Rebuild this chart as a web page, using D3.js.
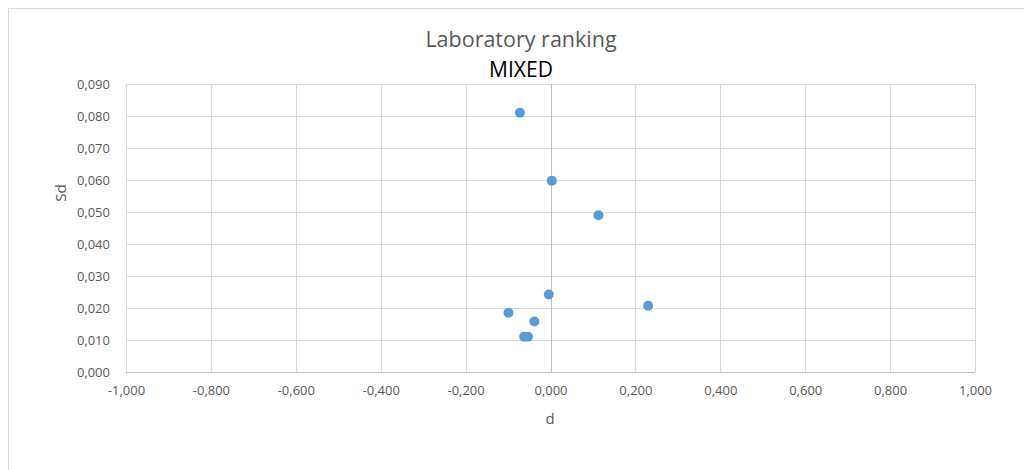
<!DOCTYPE html>
<html><head><meta charset="utf-8">
<script src="https://cdn.jsdelivr.net/npm/d3@7"></script>
<style>body{margin:0;background:#fff;} svg{display:block;font-family:"Open Sans",sans-serif;}</style>
</head><body>
<svg id="c" width="1024" height="470"></svg>
<script>
const dValues = [-0.072, 0.003, 0.113, -0.004, 0.230, -0.099, -0.038, -0.062, -0.053];
const sdValues = [0.081, 0.0598, 0.049, 0.0242, 0.0207, 0.0185, 0.0158, 0.011, 0.011];
const xTicks = [-1, -0.8, -0.6, -0.4, -0.2, 0, 0.2, 0.4, 0.6, 0.8, 1];
const yTicks = [0, 0.01, 0.02, 0.03, 0.04, 0.05, 0.06, 0.07, 0.08, 0.09];
const titleText = "Laboratory ranking";
const subtitleText = "MIXED";
const xLabel = "d";
const yLabel = "Sd";

const svg = d3.select("#c");
const fmt = v => d3.format(".3f")(v).replace(".", ",").replace("−", "-");

// chart border
svg.append("rect").attr("x", 8.5).attr("y", 8.5).attr("width", 1030).attr("height", 480)
  .attr("fill", "none").attr("stroke", "#d9d9d9").attr("stroke-width", 1);

const x = d3.scaleLinear().domain([-1, 1]).range([126, 975]);
const y = d3.scaleLinear().domain([0, 0.09]).range([372, 84]);

// grid
svg.append("g").selectAll("line").data(yTicks).join("line")
  .attr("x1", x(-1)).attr("x2", x(1))
  .attr("y1", d => Math.round(y(d)) + 0.5).attr("y2", d => Math.round(y(d)) + 0.5)
  .attr("stroke", d => d === 0 ? "#bfbfbf" : "#d9d9d9");
svg.append("g").selectAll("line").data(xTicks).join("line")
  .attr("y1", y(0)).attr("y2", y(0.09))
  .attr("x1", d => Math.round(x(d)) + 0.5).attr("x2", d => Math.round(x(d)) + 0.5)
  .attr("stroke", d => d === 0 ? "#bfbfbf" : "#d9d9d9");

// axes (labels only)
const xAxis = d3.axisBottom(x).tickValues(xTicks).tickFormat(fmt).tickSize(0).tickPadding(14);
const gx = svg.append("g").attr("transform", `translate(0,${y(0)})`).call(xAxis);
const yAxis = d3.axisLeft(y).tickValues(yTicks).tickFormat(fmt).tickSize(0).tickPadding(16);
const gy = svg.append("g").attr("transform", `translate(${x(-1)},0)`).call(yAxis);
[gx, gy].forEach(g => {
  g.select(".domain").remove();
  g.selectAll("text").attr("fill", "#595959").style("font-size", "13px").style("font-family", "'Open Sans',sans-serif");
});

// points
svg.append("g").selectAll("circle").data(dValues.map((d, i) => [d, sdValues[i]])).join("circle")
  .attr("cx", d => x(d[0])).attr("cy", d => y(d[1])).attr("r", 5)
  .attr("fill", "#5b9bd5");

// titles
svg.append("text").attr("x", 521).attr("y", 47).attr("text-anchor", "middle")
  .attr("fill", "#595959").style("font-size", "21.5px").text(titleText);
svg.append("text").attr("x", 521).attr("y", 77).attr("text-anchor", "middle")
  .attr("fill", "#000").style("font-size", "21px").text(subtitleText);
svg.append("text").attr("x", 550).attr("y", 424).attr("text-anchor", "middle")
  .attr("fill", "#595959").style("font-size", "15px").text(xLabel);
svg.append("text").attr("transform", "translate(66,193) rotate(-90)").attr("text-anchor", "middle")
  .attr("fill", "#595959").style("font-size", "15px").text(yLabel);
</script>
</body></html>
